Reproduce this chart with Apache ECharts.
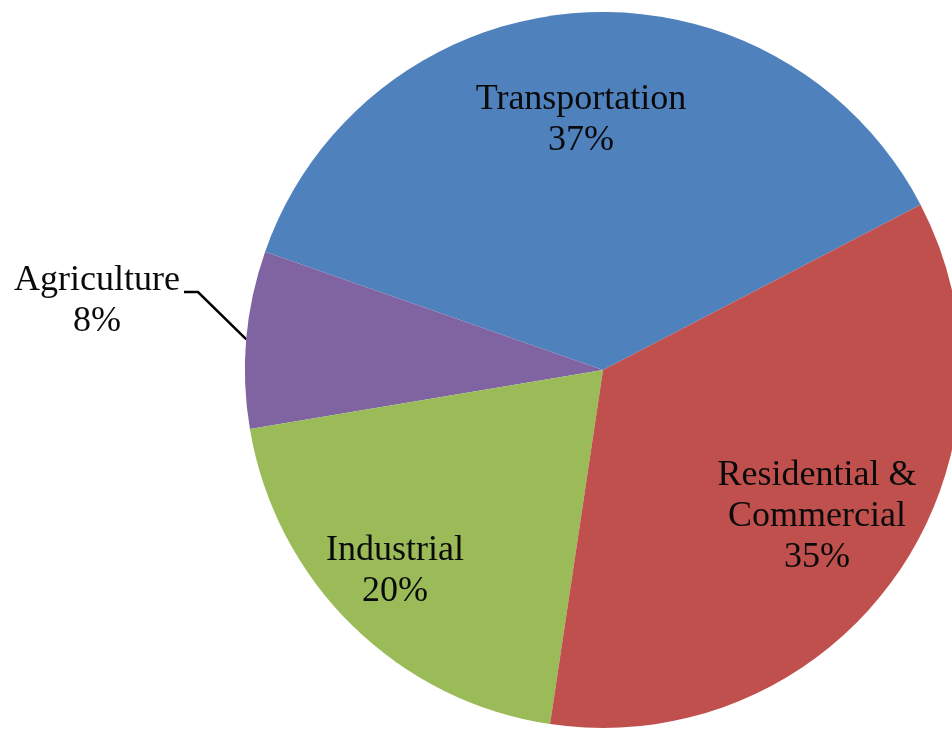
<!DOCTYPE html>
<html>
<head>
<meta charset="utf-8">
<script src="https://cdn.jsdelivr.net/npm/echarts@6/dist/echarts.min.js"></script>
<style>
  html, body { margin: 0; padding: 0; background: #fff; }
  #chart { width: 952px; height: 729px; }
</style>
</head>
<body>
<div id="chart"></div>
<script>
// slices, counter-clockwise from the right-hand edge
const categories = ['Transportation', 'Agriculture', 'Industrial', 'Residential &\nCommercial']
const values = [37, 8, 20, 35]
const colors = ['#4F81BD', '#8064A2', '#9BBB59', '#C0504D']

// label centres (px) for each slice, same order as categories
const labelPos = [[581, 120], [97, 301], [395, 571], [817, 517]]

const chart = echarts.init(document.getElementById('chart'))

const data = categories.map((name, i) => {
  const outside = name === 'Agriculture'
  return {
    name: name,
    value: values[i],
    itemStyle: { color: colors[i] },
    label: { position: outside ? 'outside' : 'inside' },
    labelLine: { show: outside }
  }
})

chart.setOption({
  animation: false,
  series: [{
    type: 'pie',
    center: [603, 370],
    radius: 358,
    startAngle: 27.5,
    clockwise: false,
    avoidLabelOverlap: false,
    data: data,
    label: {
      formatter: '{b}\n{d}%',
      fontFamily: 'Liberation Serif',
      fontSize: 36,
      lineHeight: 41,
      color: '#0a0a0a',
      align: 'center'
    },
    labelLine: {
      lineStyle: { color: '#000', width: 2.5 }
    },
    labelLayout: function (params) {
      const p = labelPos[params.dataIndex]
      const out = { x: p[0], y: p[1], align: 'center', verticalAlign: 'middle' }
      if (params.labelLinePoints) {
        out.labelLinePoints = [params.labelLinePoints[0], [198, 292], [184, 292]]
      }
      return out
    }
  }]
})
</script>
</body>
</html>
